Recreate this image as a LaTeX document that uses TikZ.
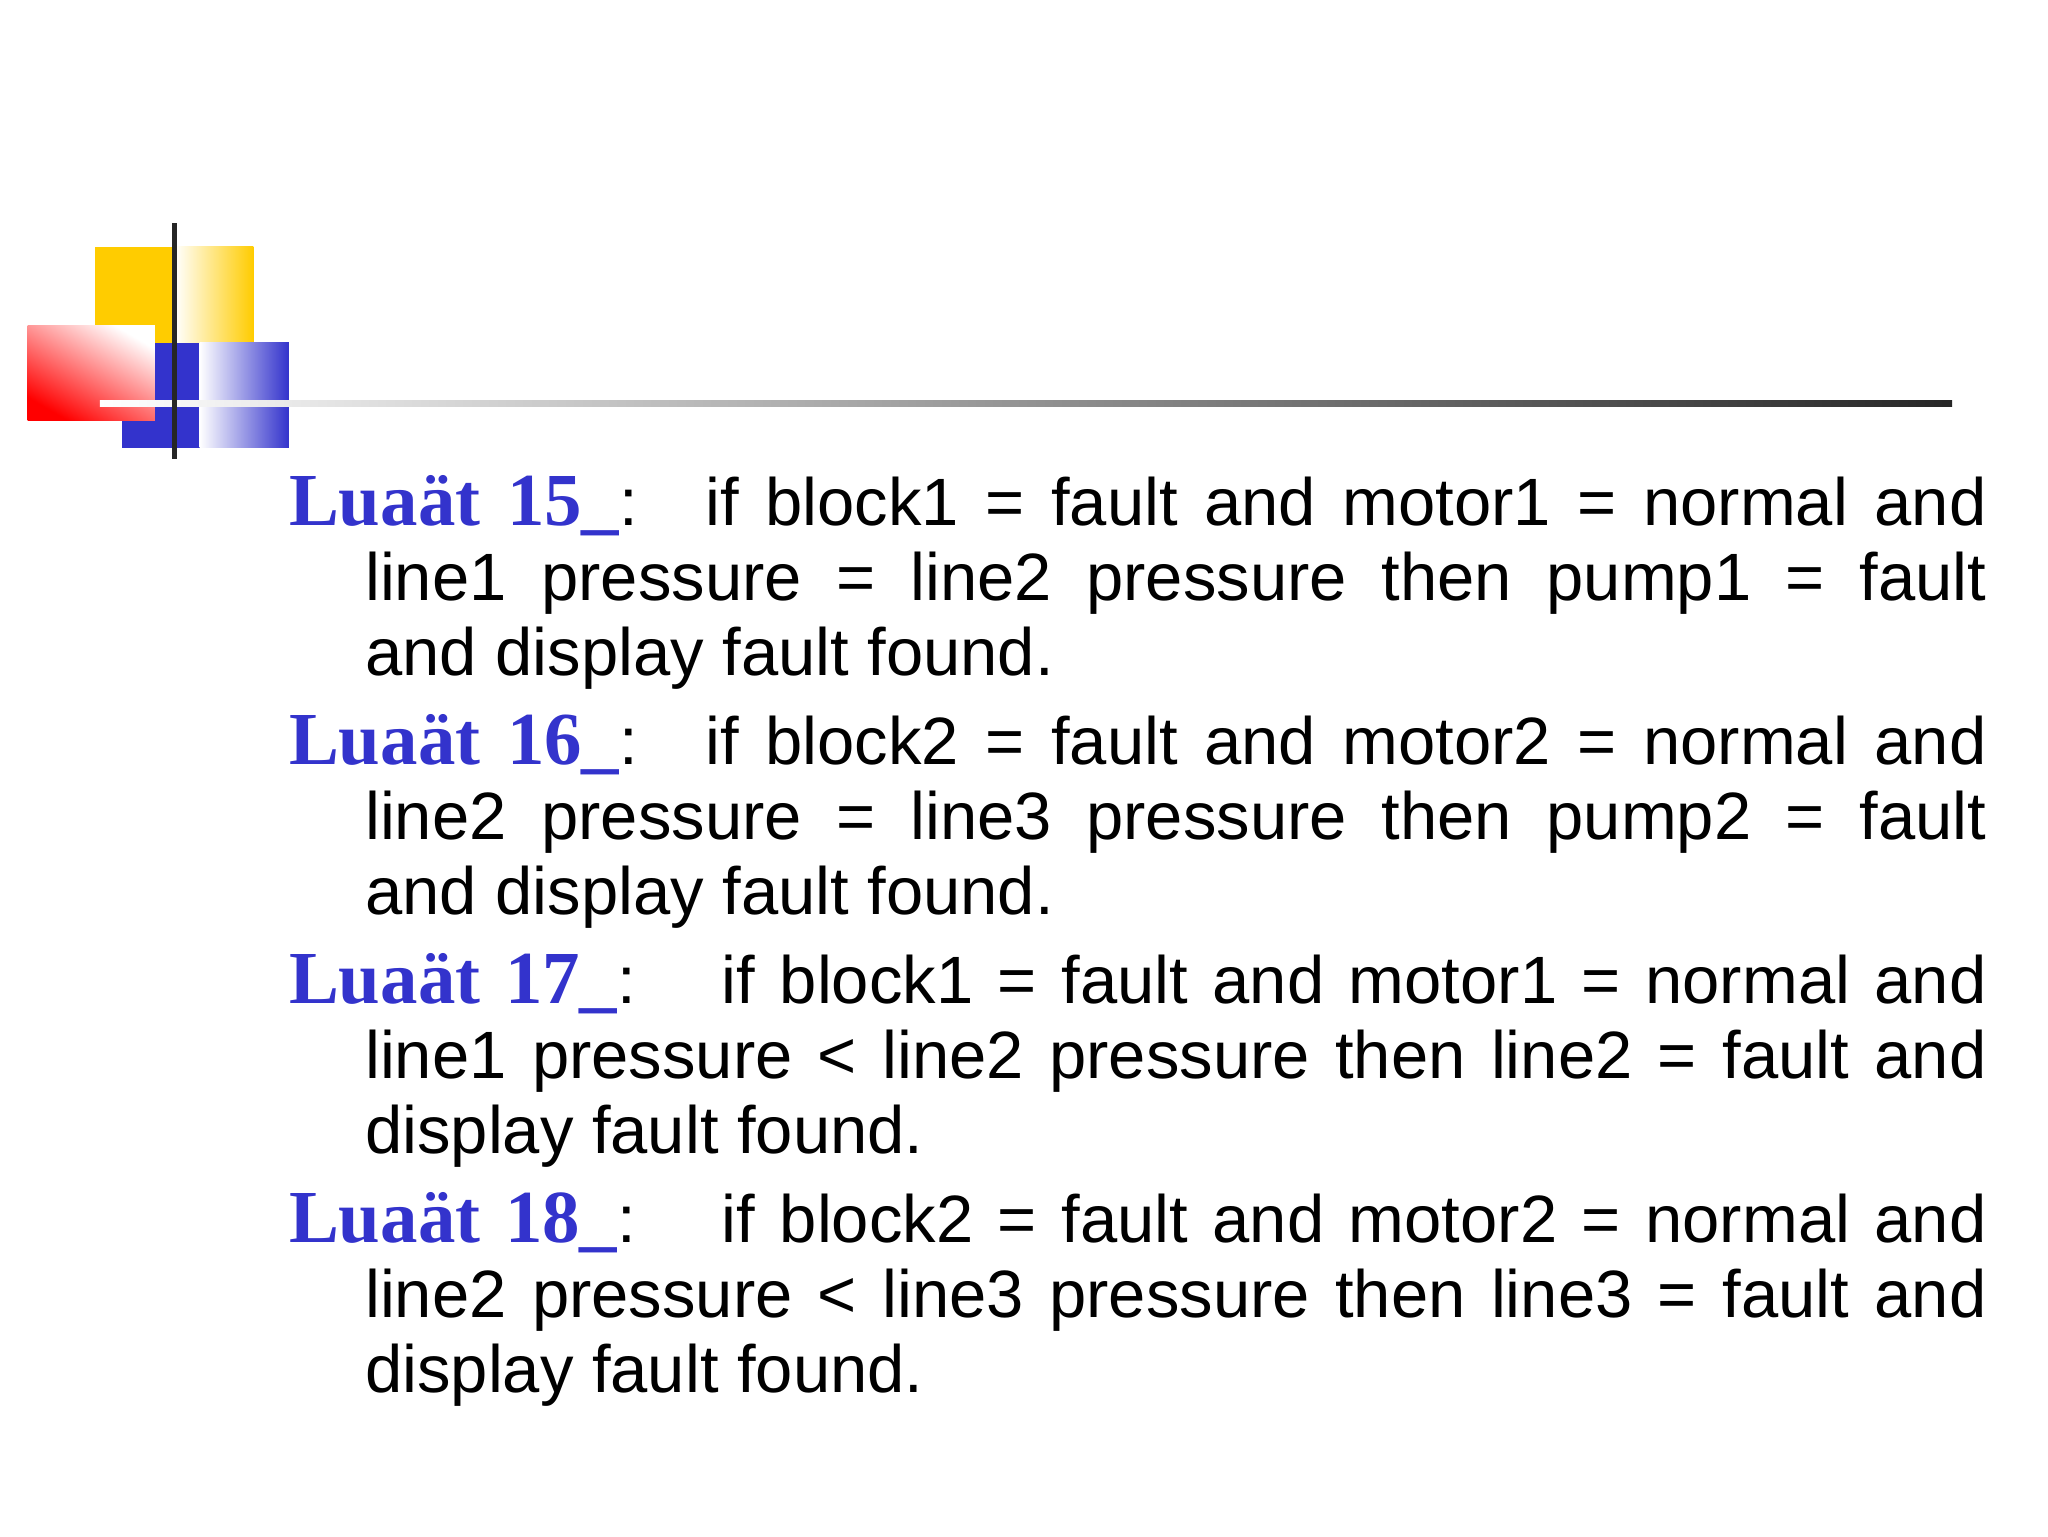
\documentclass[tikz,border=0pt]{standalone}
\usepackage{fontspec}
\setmainfont{Liberation Sans}
\newfontfamily\lblfont{Liberation Serif}
\definecolor{myblue}{RGB}{51,51,204}
\definecolor{myyellow}{RGB}{255,204,0}
\definecolor{myred}{RGB}{255,0,0}
\begin{document}
\begin{tikzpicture}[x=1pt,y=-1pt,
  rule/.style={anchor=north west,inner sep=0pt,text width=1293pt,align=justify,
    font=\fontsize{51}{57}\selectfont}]
\useasboundingbox[fill=white] (0,0) rectangle (1560,1170);
% logo
\fill[myyellow] (72,188) rectangle (133,262);
\shade[left color=white,right color=myyellow] (133,188) rectangle (193,262);
\fill[myblue] (93,261) rectangle (152,341);
\shade[left color=white,right color=myblue] (152,261) rectangle (220,341);
\shade[left color=myred,right color=white,shading angle=150] (21,248) rectangle (118,320);
\shade[left color=white,right color=black!85] (76,305) rectangle (1487,310);
\fill[black!85] (131,170) rectangle (135,350);
% rules
\newcommand{\rl}[1]{{\lblfont\fontsize{57}{57}\selectfont\bfseries\color{myblue}Luaät #1\_}:}
\node[rule] (r15) at (220,362) {\hangindent=58pt\hangafter=1
  \rl{15} \ if block1 = fault and motor1 = normal and\linebreak
  line1 pressure = line2 pressure then pump1 = fault\linebreak
  and display fault found.\par};
\node[rule] (r16) at (220,544) {\hangindent=58pt\hangafter=1
  \rl{16} \ if block2 = fault and motor2 = normal and\linebreak
  line2 pressure = line3 pressure then pump2 = fault\linebreak
  and display fault found.\par};
\node[rule] (r17) at (220,726) {\hangindent=58pt\hangafter=1
  \rl{17} \ \ if block1 = fault and motor1 = normal and\linebreak
  line1 pressure < line2 pressure then line2 = fault and\linebreak
  display fault found.\par};
\node[rule] (r18) at (220,908) {\hangindent=58pt\hangafter=1
  \rl{18} \ \ if block2 = fault and motor2 = normal and\linebreak
  line2 pressure < line3 pressure then line3 = fault and\linebreak
  display fault found.\par};
\end{tikzpicture}
\end{document}
